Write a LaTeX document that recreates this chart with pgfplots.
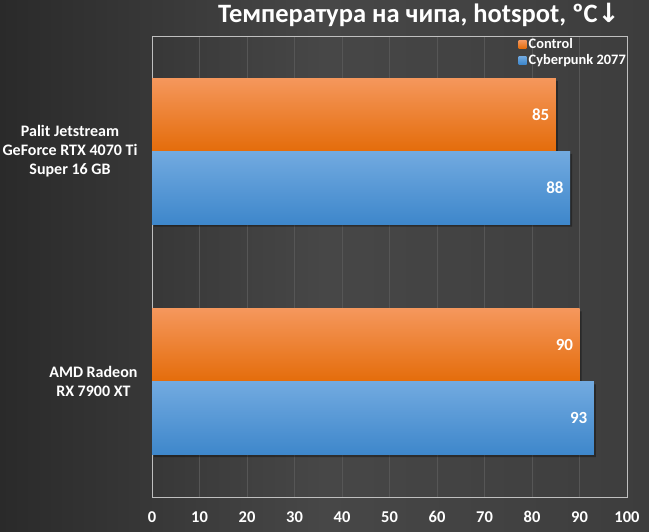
\documentclass[border=0pt]{standalone}
\usepackage{pgfplots}
\pgfplotsset{compat=1.18}
\usepackage{fontspec}
\setmainfont{Carlito}
\newfontfamily\dejavu{DejaVu Sans}
\definecolor{bgdark}{HTML}{2A2A2A}
\definecolor{bgmid}{HTML}{474747}
\definecolor{bgright}{HTML}{3D3D3D}
\definecolor{gridc}{HTML}{565656}
\definecolor{borderc}{HTML}{BFBFBF}
\definecolor{orTop}{HTML}{F5975C}
\definecolor{orBot}{HTML}{E46C0A}
\definecolor{blTop}{HTML}{72AAE0}
\definecolor{blBot}{HTML}{3E87CB}
\begin{document}
\begin{tikzpicture}
\shade[left color=bgdark, right color=bgright, middle color=bgmid] (0,0) rectangle (649bp,532bp);
\useasboundingbox (0,0) rectangle (649bp,532bp);
\begin{axis}[
  at={(152bp,35bp)}, anchor=south west,
  width=475bp, height=461bp, scale only axis,
  xbar,
  xmin=0, xmax=100,
  ymin=-0.5, ymax=1.5,
  y dir=reverse,
  ytick={0,1},
  yticklabels={{Palit Jetstream\\GeForce RTX 4070 Ti\\Super 16 GB},{AMD Radeon\\RX 7900 XT}},
  yticklabel style={align=center, font=\fontsize{16bp}{19bp}\selectfont\bfseries, text=white, xshift=-11bp},
  xtick={0,10,...,100},
  xticklabel style={font=\fontsize{16.5bp}{18bp}\selectfont\bfseries, text=white, yshift=-11bp},
  /pgf/number format/assume math mode=true,
  major tick length=0pt,
  xmajorgrids,
  grid style={gridc, line width=0.8bp},
  axis line style={borderc, line width=0.9bp},
  tick style={draw=none},
  bar width=0.316,
  nodes near coords style={anchor=east, text=white, font=\fontsize{17bp}{18bp}\selectfont\bfseries, xshift=-3bp},
  title={Температура на чипа, hotspot, ºC{\dejavu\bfseries↓}},
  title style={at={(rel axis cs:1,1)}, anchor=base east, text=white, font=\fontsize{26.5bp}{30bp}\selectfont\bfseries, inner sep=0pt, yshift=8bp, xshift=-7bp},
  legend style={at={(rel axis cs:1,1)}, anchor=north east, draw=none, fill=none, text=white,
    font=\fontsize{14.4bp}{16bp}\selectfont\bfseries, row sep=1bp, inner sep=0bp, xshift=1bp, yshift=-1bp,
    nodes={inner xsep=2bp, inner ysep=1.5bp}},
  legend cell align=left,
  legend image code/.code={\fill[#1] (0bp,-4bp) rectangle (8bp,4bp);},
]
% shadows
\addplot[forget plot, draw=none, fill=black, fill opacity=0.35, bar shift=-0.158, xshift=2bp, yshift=-2.5bp] coordinates {(85,0) (90,1)};
\addplot[forget plot, draw=none, fill=black, fill opacity=0.35, bar shift=0.158, xshift=2bp, yshift=-2.5bp] coordinates {(88,0) (93,1)};
% bars
\addplot[draw=none, top color=orTop, bottom color=orBot, bar shift=-0.158, nodes near coords] coordinates {(85,0)};
\addlegendentry{Control}
\addplot[draw=none, top color=blTop, bottom color=blBot, bar shift=0.158, nodes near coords] coordinates {(88,0)};
\addlegendentry{Cyberpunk 2077}
\addplot[forget plot, draw=none, top color=orTop, bottom color=orBot, bar shift=-0.158, nodes near coords] coordinates {(90,1)};
\addplot[forget plot, draw=none, top color=blTop, bottom color=blBot, bar shift=0.158, nodes near coords] coordinates {(93,1)};
\end{axis}
\end{tikzpicture}
\end{document}
